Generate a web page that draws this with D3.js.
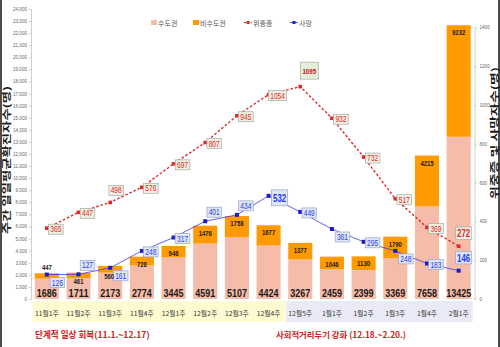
<!DOCTYPE html>
<html><head><meta charset="utf-8">
<script src="https://cdn.jsdelivr.net/npm/d3@7"></script>
<style>
html,body{margin:0;padding:0;background:#fff;}
svg{display:block;font-family:"Noto Sans CJK KR","Liberation Sans",sans-serif;}
</style></head>
<body><svg id="c" width="500" height="347"></svg>
<script>
// ---- data ----
const weeks = ["11월1주","11월2주","11월3주","11월4주","12월1주","12월2주","12월3주","12월4주","12월5주","1월1주","1월2주","1월3주","1월4주","2월1주"];
const capital = [1686,1711,2173,2774,3445,4591,5107,4424,3267,2459,2399,3369,7658,13425];
const nonCapital = [447,461,560,728,946,1476,1758,1677,1377,1046,1130,1790,4215,9232];
const severe = [365,447,498,576,697,807,945,1054,1095,932,732,517,369,272];
const deaths = [126,127,161,248,317,401,434,532,449,361,295,248,183,146];
const leftTicks = [0,1000,2000,3000,4000,5000,6000,7000,8000,9000,10000,11000,12000,13000,14000,15000,16000,17000,18000,19000,20000,21000,22000,23000,24000];
const rightTicks = [0,200,400,600,800,1000,1200,1400];
const seriesNames = ["수도권","비수도권","위중증","사망"];
const axisTitles = ["주간 일일평균확진자수(명)","위중증 및 사망자수(명)"];
const phaseNames = ["단계적 일상 회복(11.1.~12.17)","사회적거리두기 강화 (12.18.~2.20.)"];
const phaseSplit = 8; // first 8 weeks in phase 1

// ---- layout / style (not data) ----
const severeLabelDir = ["r","r","a","r","r","r","r","r","A","r","r","r","r","A"];
const deathLabelDir  = ["rb","ra","rb","r","r","ra","ra","R","r","rb","r","rb","r","A"];
const nonCapLabelPos = ["above","below","below","in","in","in","in","in","in","in","in","in","in","in"];

const svg = d3.select("#c");
const W = 500, H = 347;
const x = d3.scaleBand().domain(weeks).range([31, 474.5]).paddingInner(0.24).paddingOuter(0.12);
const yL = d3.scaleLinear().domain([0,24000]).range([299, 9]);
const yR = d3.scaleLinear().domain([0,1400]).range([299, 27.5]);
const cx = i => x(weeks[i]) + x.bandwidth()/2;

const C = {pink:"#F5BCA9", orange:"#FF9A00", red:"#E3262B", blue:"#3B3BF0", blueDark:"#1C1CC8"};
const numFont = "'Liberation Sans',Arial,sans-serif";

// frame side lines
svg.append("line").attr("x1",1).attr("x2",1).attr("y1",0).attr("y2",H).attr("stroke","#111").attr("stroke-width",1.5);
svg.append("line").attr("x1",499).attr("x2",499).attr("y1",0).attr("y2",H).attr("stroke","#111").attr("stroke-width",1.5);

// axes
const gL = svg.append("g").attr("transform","translate(31,0)")
  .call(d3.axisLeft(yL).tickValues(leftTicks).tickSize(2).tickPadding(2).tickFormat(d3.format(",")));
const gR = svg.append("g").attr("transform","translate(474.5,0)")
  .call(d3.axisRight(yR).tickValues(rightTicks).tickSize(2).tickPadding(3).tickFormat(d3.format("d")));
[gL,gR].forEach(g=>{
  g.select(".domain").attr("stroke","#d0d0d0");
  g.selectAll(".tick line").attr("stroke","#c8c8c8");
  g.selectAll(".tick text").attr("font-size","4.6px").attr("fill","#666").attr("font-family",numFont);
});

// axis titles
svg.append("text").attr("transform","translate(10,160) rotate(-90)").attr("text-anchor","middle")
  .attr("font-size","9px").attr("font-weight","bold").attr("fill","#1a1a1a")
  .attr("textLength",148).attr("lengthAdjust","spacingAndGlyphs").text(axisTitles[0]);
svg.append("text").attr("transform","translate(497.5,133) rotate(-90)").attr("text-anchor","middle")
  .attr("font-size","9px").attr("font-weight","bold").attr("fill","#1a1a1a")
  .attr("textLength",132).attr("lengthAdjust","spacingAndGlyphs").text(axisTitles[1]);

// category bands
const bandY = 301, bandH = 21;
const firstEnd = x(weeks[phaseSplit-1]) + x.bandwidth() + 5;
svg.append("rect").attr("x", x(weeks[0]) - 2).attr("y",bandY).attr("width", firstEnd - x(weeks[0]) + 2).attr("height",bandH).attr("fill","#FFFBD0");
svg.append("rect").attr("x", x(weeks[phaseSplit]) - 2).attr("y",bandY).attr("width", x(weeks[weeks.length-1]) + x.bandwidth() + 2 - x(weeks[phaseSplit]) + 2).attr("height",bandH).attr("fill","#E9EAF5");
svg.append("g").selectAll("text").data(weeks).join("text")
  .attr("x",(d,i)=>cx(i)).attr("y",316).attr("text-anchor","middle")
  .attr("font-size","6.8px").attr("fill","#333").text(d=>d);

// phase captions
svg.append("text").attr("x",35).attr("y",338).attr("font-size","8.6px").attr("font-weight","bold").attr("fill","#D42020").text(phaseNames[0]);
svg.append("text").attr("x",276).attr("y",338).attr("font-size","8.4px").attr("font-weight","bold").attr("fill","#D42020").text(phaseNames[1]);

// stacked bars
const bars = svg.append("g");
bars.selectAll("rect.cap").data(capital).join("rect").attr("class","cap")
  .attr("x",(d,i)=>x(weeks[i])).attr("width",x.bandwidth())
  .attr("y",d=>yL(d)).attr("height",d=>yL(0)-yL(d)).attr("fill",C.pink);
bars.selectAll("rect.non").data(nonCapital).join("rect").attr("class","non")
  .attr("x",(d,i)=>x(weeks[i])).attr("width",x.bandwidth())
  .attr("y",(d,i)=>yL(d+capital[i])).attr("height",(d,i)=>yL(capital[i])-yL(d+capital[i])).attr("fill",C.orange);

bars.selectAll("text.capl").data(capital).join("text").attr("class","capl")
  .attr("x",(d,i)=>cx(i)).attr("y",297).attr("text-anchor","middle")
  .attr("font-family",numFont).attr("font-size","11.5px").attr("font-weight","bold").attr("fill","#1a1a1a")
  .attr("textLength",d=>String(d).length*5).attr("lengthAdjust","spacingAndGlyphs").text(d=>d);

// lines
const lineGen = d3.line().x((d,i)=>cx(i)).y(d=>yR(d));
svg.append("path").datum(severe).attr("d",lineGen).attr("fill","none")
  .attr("stroke",C.red).attr("stroke-width",1.4).attr("stroke-dasharray","2.5,2");
svg.append("path").datum(deaths).attr("d",lineGen).attr("fill","none")
  .attr("stroke",C.blue).attr("stroke-width",0.8);
svg.append("g").selectAll("rect").data(severe).join("rect")
  .attr("x",(d,i)=>cx(i)-1.8).attr("y",d=>yR(d)-1.8).attr("width",3.6).attr("height",3.6).attr("fill",C.red);
svg.append("g").selectAll("rect").data(deaths).join("rect")
  .attr("x",(d,i)=>cx(i)-2).attr("y",d=>yR(d)-2).attr("width",4).attr("height",4).attr("fill",C.blueDark);

// boxed labels
function boxLabel(g, px, py, dir, text, opt){
  let dx=9, dy=1;
  if(dir==="a"){dx=6; dy=-12;}
  if(dir==="A"){dx=opt.peak?9:5; dy=opt.peak?-16:-13;}
  if(dir==="ra"){dx=9; dy=-9;}
  if(dir==="rb"){dx=10.5; dy=8;}
  if(dir==="R"){dx=11; dy=2;}
  const big = (dir==="A"||dir==="R");
  const n = String(text).length;
  let fs, tl, bw, bh;
  if(!big){ fs=8.5; tl=n*3.7; bw=tl+3.5; bh=10; }
  else if(opt.peak){ fs=8; tl=n*3.4; bw=18; bh=17; }
  else { fs=11.5; tl=n*4.4; bw=tl+3; bh=(dir==="R")?16:12.5; }
  const cxl = px+dx, cyl = py+dy;
  g.append("rect").attr("x",cxl-bw/2).attr("y",cyl-bh/2).attr("width",bw).attr("height",bh)
    .attr("fill",opt.fill).attr("stroke",opt.stroke).attr("stroke-width",0.7);
  g.append("text").attr("x",cxl).attr("y",cyl+fs*0.36).attr("text-anchor","middle")
    .attr("font-family",numFont).attr("font-size",fs+"px").attr("font-weight",big?"bold":"normal")
    .attr("fill",opt.color).attr("textLength",tl).attr("lengthAdjust","spacingAndGlyphs").text(text);
}
severe.forEach((v,i)=>{
  const peak = (i===8);
  boxLabel(svg.append("g"), cx(i), yR(v), severeLabelDir[i], v,
    {peak, color: peak ? "#C81010" : C.red, fill: peak ? "#E6EDD8" : "#EEF1E0", stroke:"#A8A8A8"});
});
deaths.forEach((v,i)=>{
  boxLabel(svg.append("g"), cx(i), yR(v), deathLabelDir[i], v,
    {peak:false, color: "#2E3BEA", fill:"#DDE6F6", stroke:"#9AA6C8"});
});

// non-capital labels drawn on top
svg.append("g").selectAll("text").data(nonCapital).join("text")
  .attr("x",(d,i)=>cx(i) - (nonCapLabelPos[i]==="below" && i===2 ? 1 : 0))
  .attr("y",(d,i)=>{
    const top = yL(d+capital[i]);
    const p = nonCapLabelPos[i];
    if(p==="above") return top-3;
    if(p==="below") return yL(capital[i]) + 6;
    return top + 10;
  })
  .attr("text-anchor","middle").attr("font-family",numFont)
  .attr("font-size","7px").attr("font-weight","bold").attr("fill","#1a1a1a")
  .attr("textLength",d=>String(d).length*3.3).attr("lengthAdjust","spacingAndGlyphs").text(d=>d);

// legend
const lg = svg.append("g").attr("font-size","7px").attr("fill","#555");
const lx = [151,193,244,290];
lg.append("rect").attr("x",lx[0]).attr("y",20).attr("width",6).attr("height",5).attr("fill",C.pink);
lg.append("rect").attr("x",lx[1]).attr("y",20).attr("width",6).attr("height",5).attr("fill",C.orange);
lg.append("line").attr("x1",lx[2]).attr("x2",lx[2]+8).attr("y1",22.5).attr("y2",22.5).attr("stroke",C.red).attr("stroke-width",1.2).attr("stroke-dasharray","2,1.5");
lg.append("rect").attr("x",lx[2]+2.5).attr("y",21).attr("width",3).attr("height",3).attr("fill",C.red);
lg.append("line").attr("x1",lx[3]).attr("x2",lx[3]+8).attr("y1",22.5).attr("y2",22.5).attr("stroke",C.blue).attr("stroke-width",0.8);
lg.append("rect").attr("x",lx[3]+2.5).attr("y",21).attr("width",3).attr("height",3).attr("fill",C.blueDark);
seriesNames.forEach((n,i)=>{
  lg.append("text").attr("x",lx[i]+ (i<2?7:9)).attr("y",25.5).attr("fill","#555").text(n);
});
</script></body></html>
